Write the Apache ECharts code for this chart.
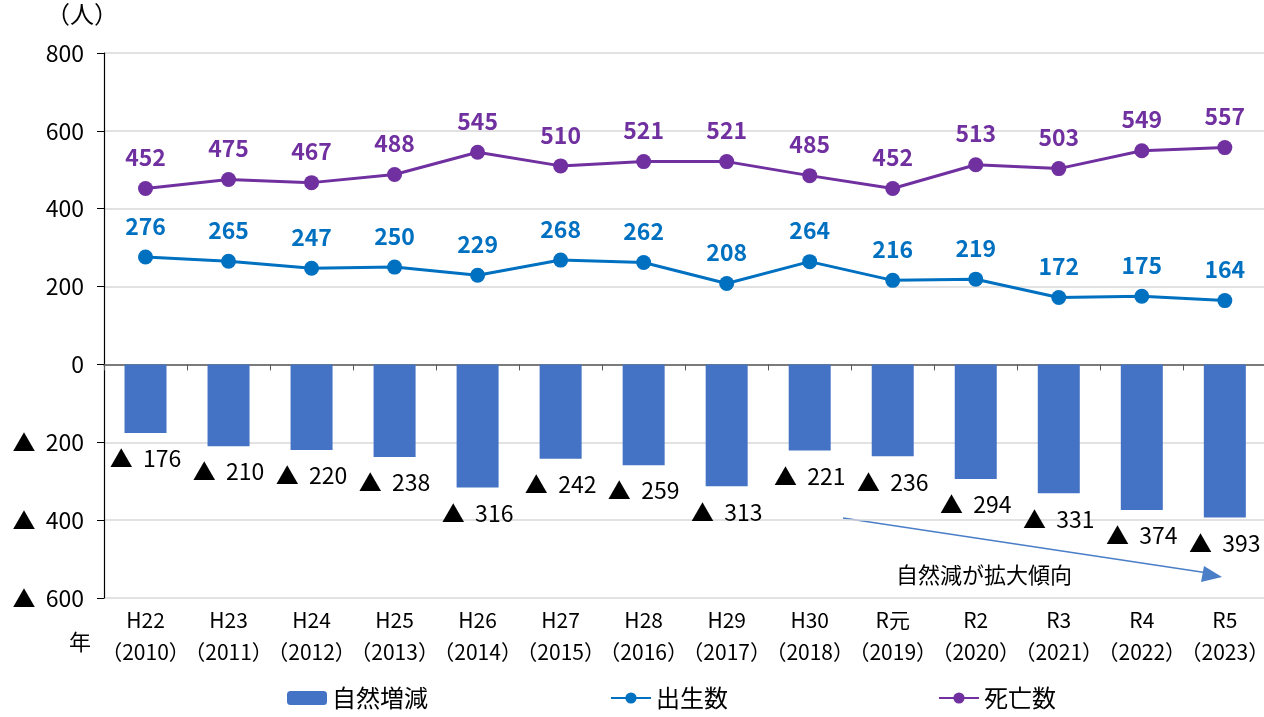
<!DOCTYPE html>
<html>
<head>
<meta charset="utf-8">
<script src="https://cdn.jsdelivr.net/npm/echarts@6/dist/echarts.min.js"></script>
<style>
  html, body { margin: 0; padding: 0; background: #fff; overflow: hidden; }
  #chart { width: 1272px; height: 717px; }
</style>
</head>
<body>
<div id="chart"></div>
<script>
// data
var categories = ['H22\n（2010）', 'H23\n（2011）', 'H24\n（2012）', 'H25\n（2013）', 'H26\n（2014）', 'H27\n（2015）', 'H28\n（2016）', 'H29\n（2017）', 'H30\n（2018）', 'R元\n（2019）', 'R2\n（2020）', 'R3\n（2021）', 'R4\n（2022）', 'R5\n（2023）']
var naturalChange = [-176, -210, -220, -238, -316, -242, -259, -313, -221, -236, -294, -331, -374, -393]
var births = [276, 265, 247, 250, 229, 268, 262, 208, 264, 216, 219, 172, 175, 164]
var deaths = [452, 475, 467, 488, 545, 510, 521, 521, 485, 452, 513, 503, 549, 557]
var yTicks = { min: -600, max: 800, interval: 200 }

var FONT = '"Noto Sans CJK JP", sans-serif'

function tri(v) {
  return v < 0 ? '▲  ' + Math.abs(v) : String(v)
}

function legendAt(left, name) {
  return {
    bottom: 2,
    left: left,
    itemWidth: 40,
    itemHeight: 14,
    itemGap: 0,
    textStyle: { fontSize: 24, color: '#000', fontFamily: FONT },
    data: [name]
  }
}

var chart = echarts.init(document.getElementById('chart'))
chart.setOption({
  animation: false,
  textStyle: { fontFamily: FONT },
  grid: { left: 104, top: 53, width: 1166, height: 545, containLabel: false },
  legend: [
    legendAt(282, '自然増減'),
    legendAt(605, '出生数'),
    legendAt(933, '死亡数')
  ],
  xAxis: [
    {
      type: 'category',
      data: categories,
      axisLine: { show: false, onZero: false },
      axisTick: { show: false },
      axisLabel: { fontSize: 21, color: '#000', lineHeight: 32, margin: 6, interval: 0, fontFamily: FONT }
    },
    {
      type: 'category',
      position: 'bottom',
      data: categories,
      axisLine: { show: true, onZero: true, lineStyle: { color: '#595959', width: 1.5 } },
      axisTick: { show: true, length: 6, lineStyle: { color: '#595959' } },
      axisLabel: { show: false }
    }
  ],
  yAxis: {
    type: 'value',
    min: yTicks.min,
    max: yTicks.max,
    interval: yTicks.interval,
    axisLine: { show: true, lineStyle: { color: '#000', width: 1.2 } },
    axisTick: { show: true, length: 7, lineStyle: { color: '#000' } },
    axisLabel: { fontSize: 23, color: '#000', margin: 20, formatter: tri, fontFamily: FONT },
    splitLine: { lineStyle: { color: '#d9d9d9', width: 1.5 } }
  },
  graphic: [
    { type: 'text', left: 46, top: 2, style: { text: '（人）', fill: '#000', font: '24px "Noto Sans CJK JP"' } },
    { type: 'text', left: 69, top: 631, style: { text: '年', fill: '#000', font: '22px "Noto Sans CJK JP"' } },
    { type: 'line', shape: { x1: 843, y1: 518, x2: 1208, y2: 573 }, style: { stroke: '#4a7ec7', lineWidth: 1.5 } },
    { type: 'polygon', shape: { points: [[1222, 577], [1204, 566], [1201, 582]] }, style: { fill: '#4a7ec7' } },
    { type: 'text', left: 896, top: 564, style: { text: '自然減が拡大傾向', fill: '#000', font: '22px "Noto Sans CJK JP"' } }
  ],
  series: [
    {
      name: '自然増減',
      type: 'bar',
      barWidth: 42,
      itemStyle: { color: '#4472c4' },
      label: {
        show: true,
        position: 'bottom',
        distance: 14,
        fontSize: 23,
        color: '#000',
        fontFamily: FONT,
        formatter: function (p) { return tri(p.value) }
      },
      data: naturalChange
    },
    {
      name: '出生数',
      type: 'line',
      symbol: 'circle',
      symbolSize: 15,
      itemStyle: { color: '#0070c0' },
      lineStyle: { color: '#0070c0', width: 3 },
      label: { show: true, position: 'top', distance: 12, fontSize: 23, fontWeight: 'bold', color: '#0070c0', fontFamily: FONT },
      data: births
    },
    {
      name: '死亡数',
      type: 'line',
      symbol: 'circle',
      symbolSize: 15,
      itemStyle: { color: '#7030a0' },
      lineStyle: { color: '#7030a0', width: 3 },
      label: { show: true, position: 'top', distance: 12, fontSize: 23, fontWeight: 'bold', color: '#7030a0', fontFamily: FONT },
      data: deaths
    }
  ]
})
</script>
</body>
</html>
